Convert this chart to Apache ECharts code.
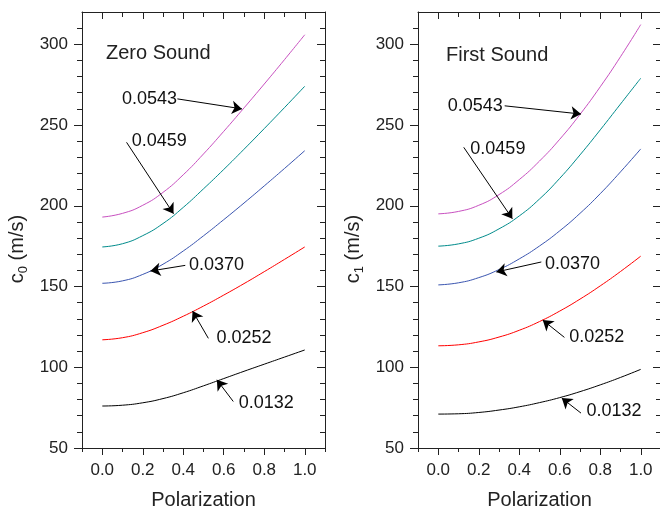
<!DOCTYPE html>
<html>
<head>
<meta charset="utf-8">
<script src="https://cdn.jsdelivr.net/npm/echarts@6/dist/echarts.min.js"></script>
<style>html,body{margin:0;padding:0;background:#fff;}#c{width:660px;height:509px;}</style>
</head>
<body>
<div id="c"></div>
<script>
// ---- data ----
const polarization = [0, 0.1, 0.2, 0.3, 0.4, 0.5, 0.6, 0.7, 0.8, 0.9, 1.0];
const curveNames = ['0.0543', '0.0459', '0.0370', '0.0252', '0.0132'];

// Zero sound c0 (m/s)
const zero0543 = [193, 195.3, 200.3, 208.3, 219.2, 232.1, 246.1, 260.6, 275.4, 290.5, 305.9];
const zero0459 = [174.5, 176.5, 181.5, 189, 199, 210.5, 222.5, 235, 247.8, 260.8, 274];
const zero0370 = [152, 153.5, 157.5, 163.8, 172, 181.4, 191.4, 201.7, 212.3, 223.1, 234.1];
const zero0252 = [117, 118.3, 121.4, 126, 131.6, 137.9, 144.7, 151.8, 159.2, 166.8, 174.5];
const zero0132 = [76, 76.5, 78, 80.6, 84.2, 88.5, 93, 97.5, 101.9, 106.3, 110.7];

// First sound c1 (m/s)
const first0543 = [195, 196.5, 200.3, 206.9, 216.2, 227.7, 241.2, 256.6, 273.7, 292.3, 312.2];
const first0459 = [175, 176.4, 179.9, 185.7, 193.7, 204.2, 217, 231.5, 247, 263, 279];
const first0370 = [151, 152.3, 155.5, 160.5, 167.1, 175.1, 184.5, 195.3, 207.5, 221, 235.2];
const first0252 = [113.3, 113.9, 115.7, 118.7, 122.9, 128.3, 134.8, 142.2, 150.4, 159.3, 168.8];
const first0132 = [71, 71.2, 72, 73.5, 75.5, 78.1, 81.2, 84.9, 89.1, 93.7, 98.7];

// tick labels
const xTickLabels = [0, 0.2, 0.4, 0.6, 0.8, 1.0];
const xMinorTicks = [-0.1, 0.1, 0.3, 0.5, 0.7, 0.9, 1.1];
const yTickLabels = [50, 100, 150, 200, 250, 300];
const yMinorTicks = [60, 70, 80, 90, 110, 120, 130, 140, 160, 170, 180, 190, 210, 220, 230, 240, 260, 270, 280, 290, 310];

// annotations (data coordinates): label position, arrow tail, arrow tip
const zeroLabelPos = [[0.095, 266.2], [0.143, 240.3], [0.426, 163.1], [0.562, 117.9], [0.672, 77.8]];
const zeroArrowTail = [[0.371, 266.2], [0.12, 239.3], [0.41, 163.1], [0.524, 117.9], [0.647, 78.8]];
const zeroArrowTip = [[0.690, 260], [0.352, 195.1], [0.238, 159.6], [0.446, 134.8], [0.566, 92.2]];

const firstLabelPos = [[0.044, 261.9], [0.156, 235.2], [0.525, 164.2], [0.644, 118.5], [0.730, 72.6]];
const firstArrowTail = [[0.328, 261.9], [0.126, 236.2], [0.509, 165.2], [0.623, 118.5], [0.705, 71.6]];
const firstArrowTip = [[0.705, 256.8], [0.366, 192], [0.287, 159], [0.516, 129.2], [0.61, 80.9]];

const colors = ['#C850C0', '#008B8B', '#3A55B0', '#FF0000', '#000000'];

// ---- chart ----
const FONT = '"Liberation Sans", Arial, sans-serif';
const AX = '#222';
const chart = echarts.init(document.getElementById('c'), null, {renderer: 'canvas'});

const grids = [
  {left: 82, top: 12, width: 243, height: 436, outerBoundsMode: 'none', containLabel: false},
  {left: 418, top: 12, width: 243, height: 436, outerBoundsMode: 'none', containLabel: false}
];

function xAxesFor(g) {
  const base = {gridIndex: g, type: 'value', min: -0.1, max: 1.1, splitLine: {show: false}};
  const line = {show: true, onZero: false, lineStyle: {color: AX, width: 1}};
  return [
    Object.assign({}, base, {position: 'bottom', axisLine: line,
      axisTick: {show: true, customValues: xTickLabels, length: 7, lineStyle: {color: AX}},
      axisLabel: {show: true, customValues: xTickLabels, formatter: v => Number(v).toFixed(1),
        fontSize: 17, color: AX, fontFamily: FONT, margin: 14},
      name: 'Polarization', nameLocation: 'middle', nameGap: 42,
      nameTextStyle: {fontSize: 20, color: AX, fontFamily: FONT}}),
    Object.assign({}, base, {position: 'bottom', axisLine: {show: false, onZero: false},
      axisTick: {show: true, customValues: xMinorTicks, length: 4, lineStyle: {color: AX}},
      axisLabel: {show: false}}),
    Object.assign({}, base, {position: 'top', axisLine: line,
      axisTick: {show: true, inside: true, customValues: xTickLabels, length: 7, lineStyle: {color: AX}},
      axisLabel: {show: false}}),
    Object.assign({}, base, {position: 'top', axisLine: {show: false, onZero: false},
      axisTick: {show: true, inside: true, customValues: xMinorTicks, length: 5, lineStyle: {color: AX}},
      axisLabel: {show: false}})
  ];
}

function yAxesFor(g, sub) {
  const base = {gridIndex: g, type: 'value', min: 50, max: 320, splitLine: {show: false}};
  const line = {show: true, onZero: false, lineStyle: {color: AX, width: 1}};
  return [
    Object.assign({}, base, {position: 'left', axisLine: line,
      axisTick: {show: true, customValues: yTickLabels, length: 8, lineStyle: {color: AX}},
      axisLabel: {show: true, customValues: yTickLabels, fontSize: 17, color: AX, fontFamily: FONT, margin: 14},
      name: '{n|c}{s|' + sub + '}{n| (m/s)}', nameLocation: 'middle', nameGap: 52,
      nameTextStyle: {color: AX, fontFamily: FONT, fontSize: 20, padding: [0, 38, 0, 0],
        rich: {n: {fontSize: 20, fontFamily: FONT, color: AX, lineHeight: 26, verticalAlign: 'middle'},
               s: {fontSize: 13, fontFamily: FONT, color: AX, lineHeight: 26, verticalAlign: 'bottom'}}}}),
    Object.assign({}, base, {position: 'left', axisLine: {show: false, onZero: false},
      axisTick: {show: true, customValues: yMinorTicks, length: 5, lineStyle: {color: AX}},
      axisLabel: {show: false}}),
    Object.assign({}, base, {position: 'right', axisLine: line,
      axisTick: {show: true, inside: true, customValues: yTickLabels, length: 8, lineStyle: {color: AX}},
      axisLabel: {show: false}}),
    Object.assign({}, base, {position: 'right', axisLine: {show: false, onZero: false},
      axisTick: {show: true, inside: true, customValues: yMinorTicks, length: 5, lineStyle: {color: AX}},
      axisLabel: {show: false}})
  ];
}

function curveSeries(arr, idx, axisBase) {
  return {
    type: 'line', xAxisIndex: axisBase, yAxisIndex: axisBase,
    data: polarization.map((p, i) => [p, arr[i]]),
    smooth: 0.5, showSymbol: false, symbol: 'none',
    lineStyle: {color: colors[idx], width: 1}, silent: true
  };
}

function annotationSeries(labelPos, tails, tips, axisBase) {
  return {
    type: 'scatter', xAxisIndex: axisBase, yAxisIndex: axisBase,
    symbolSize: 1, itemStyle: {color: 'rgba(255,255,255,0)'}, silent: true,
    data: curveNames.map((n, i) => ({name: n, value: labelPos[i]})),
    label: {show: true, position: 'right', distance: 0, formatter: '{b}',
      fontSize: 18, color: '#111', fontFamily: FONT, textBorderWidth: 0, opacity: 1},
    markLine: {
      silent: true, animation: false, symbol: ['none', 'arrow'], symbolSize: 10,
      lineStyle: {color: '#000', width: 1, type: 'solid'}, label: {show: false},
      emphasis: {disabled: true},
      data: tails.map((t, i) => [{coord: t}, {coord: tips[i]}])
    }
  };
}

const zeroCurves = [zero0543, zero0459, zero0370, zero0252, zero0132];
const firstCurves = [first0543, first0459, first0370, first0252, first0132];

const series = [];
zeroCurves.forEach((c, i) => series.push(curveSeries(c, i, 0)));
series.push(annotationSeries(zeroLabelPos, zeroArrowTail, zeroArrowTip, 0));
firstCurves.forEach((c, i) => series.push(curveSeries(c, i, 4)));
series.push(annotationSeries(firstLabelPos, firstArrowTail, firstArrowTip, 4));

chart.setOption({
  animation: false,
  backgroundColor: '#fff',
  textStyle: {fontFamily: FONT},
  title: [
    {text: 'Zero Sound', left: 106, top: 43, padding: 0,
      textStyle: {fontSize: 20, fontWeight: 'normal', color: AX, fontFamily: FONT}},
    {text: 'First Sound', left: 446, top: 45, padding: 0,
      textStyle: {fontSize: 20, fontWeight: 'normal', color: AX, fontFamily: FONT}}
  ],
  grid: grids,
  xAxis: xAxesFor(0).concat(xAxesFor(1)),
  yAxis: yAxesFor(0, '0').concat(yAxesFor(1, '1')),
  series: series
});
</script>
</body>
</html>
